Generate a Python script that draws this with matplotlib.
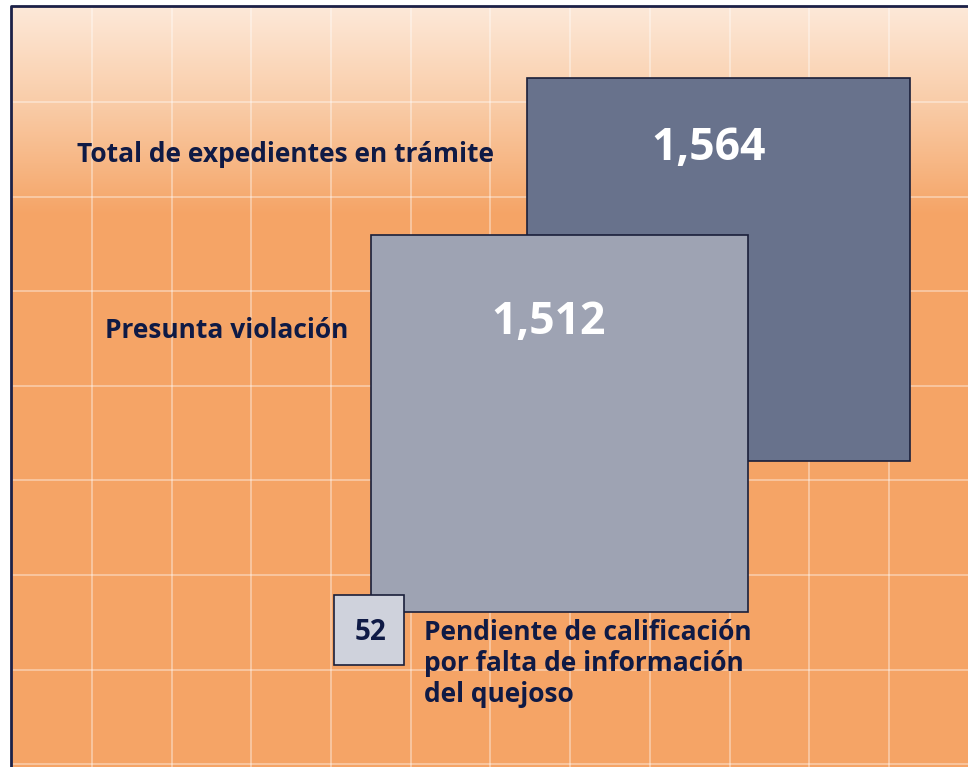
import numpy as np
import matplotlib.pyplot as plt
from matplotlib.patches import Rectangle
from matplotlib.colors import LinearSegmentedColormap

# data
labels = ['Total de expedientes en trámite', 'Presunta violación',
          'Pendiente de calificación\npor falta de información\ndel quejoso']
values = [1564, 1512, 52]
value_text = ['1,564', '1,512', '52']

# square colours
fills = ['#68728c', '#9ea3b3', '#cfd2dc']
num_colors = ['white', 'white', '#0f1a45']
navy = '#0f1a45'

W, H = 968, 767
fig = plt.figure(figsize=(W / 100, H / 100), dpi=100)
ax = fig.add_axes([0, 0, 1, 1])
ax.set_xlim(0, W)
ax.set_ylim(H, 0)
ax.axis('off')

# background: gradient at top, flat orange below
left, top = 11, 6
cmap = LinearSegmentedColormap.from_list('bg', ['#fde9d9', '#f9caa4', '#f5a466'])
grad = np.linspace(0, 1, 256).reshape(-1, 1)
ax.imshow(grad, cmap=cmap, aspect='auto', extent=(left, W, 215, top), zorder=0)
ax.add_patch(Rectangle((left, 215), W - left, H - 215, facecolor='#f5a466',
                       edgecolor='none', zorder=0))

# grid
for x in np.arange(92, W, 79.7):
    ax.plot([x, x], [top, H], color='white', alpha=0.4, lw=1.3, zorder=1)
for y in np.arange(102, H, 94.6):
    ax.plot([left, W], [y, y], color='white', alpha=0.4, lw=1.3, zorder=1)

# frame on left and top
ax.plot([left, left, W], [H, top, top], color='#1c2147', lw=2, zorder=5,
        solid_capstyle='butt')

# squares, area proportional to value
k = 383 / np.sqrt(values[0])
corners = [(527, 78), (371, 235), (334, 595)]
for i, v in enumerate(values):
    s = k * np.sqrt(v)
    x0, y0 = corners[i]
    ax.add_patch(Rectangle((x0, y0), s, s, facecolor=fills[i], edgecolor='#1a1f3a',
                           lw=1.2, zorder=2 + i))

font = 'Open Sans'
# values
ax.text(709, 149, value_text[0], color=num_colors[0], fontsize=32, fontweight='bold',
        family=font, ha='center', va='center', zorder=6)
ax.text(549, 323, value_text[1], color=num_colors[1], fontsize=32, fontweight='bold',
        family=font, ha='center', va='center', zorder=6)
ax.text(370, 632, value_text[2], color=num_colors[2], fontsize=20, fontweight='bold',
        family=font, ha='center', va='center', zorder=6)

# labels
ax.text(494, 154, labels[0], color=navy, fontsize=19, fontweight='bold', family=font,
        ha='right', va='center', zorder=6)
ax.text(348, 331, labels[1], color=navy, fontsize=19, fontweight='bold', family=font,
        ha='right', va='center', zorder=6)
ax.text(424, 619, labels[2], color=navy, fontsize=19, fontweight='bold', family=font,
        ha='left', va='top', linespacing=1.2, zorder=6)

fig.savefig('out.png', dpi=100)
